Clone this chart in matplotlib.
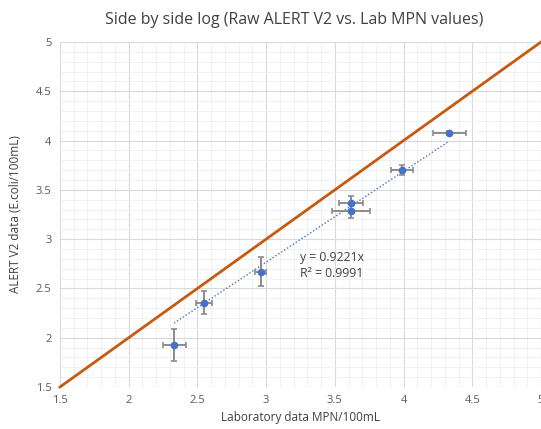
import matplotlib
matplotlib.use("Agg")
import matplotlib.pyplot as plt
import numpy as np
from matplotlib.ticker import MultipleLocator

plt.rcParams['font.family'] = ['Open Sans', 'DejaVu Sans']

# Data (log10 values)
lab_mpn = [2.33, 2.548, 2.961, 3.616, 3.616, 3.987, 4.331]
alert_v2 = [1.924, 2.356, 2.67, 3.364, 3.286, 3.70, 4.074]
lab_err = [0.084, 0.055, 0.04, 0.087, 0.14, 0.08, 0.12]
alert_err = [0.16, 0.12, 0.15, 0.07, 0.07, 0.05, 0.02]
trend_slope = 0.9221
r_squared = 0.9991
identity = [1.5, 5.0]
x_ticks = [1.5, 2, 2.5, 3, 3.5, 4, 4.5, 5]
y_ticks = [1.5, 2, 2.5, 3, 3.5, 4, 4.5, 5]

fig = plt.figure(figsize=(5.41, 4.29), dpi=100)
ax = fig.add_axes([60/541, 42/429, 1 - 60/541, 345/429])

ax.set_xlim(1.5, 5)
ax.set_ylim(1.5, 5)
ax.xaxis.set_minor_locator(MultipleLocator(0.1))
ax.yaxis.set_minor_locator(MultipleLocator(0.1))
ax.set_xticks(x_ticks)
ax.set_yticks(y_ticks)
ax.set_xticklabels([f"{t:g}" for t in x_ticks])
ax.set_yticklabels([f"{t:g}" for t in y_ticks])
ax.grid(which='major', color='#D9D9D9', linewidth=0.8)
ax.grid(which='minor', color='#EFEFEF', linewidth=0.6)
ax.set_axisbelow(True)
for s in ax.spines.values():
    s.set_visible(False)
ax.tick_params(which='both', length=0, labelsize=8, colors='#595959', pad=6)

# identity line
ax.plot(identity, identity, color='#C55A11', linewidth=2.0, zorder=2, clip_on=False)

# trendline
xt = np.array([min(lab_mpn), max(lab_mpn)])
ax.plot(xt, trend_slope * xt, color='#4472C4', linestyle=(0, (1, 1.5)), linewidth=1.0, zorder=3)

# points with error bars
ax.errorbar(lab_mpn, alert_v2, xerr=lab_err, yerr=alert_err, fmt='o',
            color='#4472C4', markersize=4.5, ecolor='#8C8C8C', elinewidth=1.4,
            capsize=2.5, capthick=1.2, zorder=4)

ax.text(3.247, 2.733, f"y = {trend_slope}x\nR\u00b2 = {r_squared}", fontsize=8.8,
        color='#404040', linespacing=1.25, va='center', ha='left')

ax.set_xlabel("Laboratory data MPN/100mL", fontsize=8.5, color='#404040', labelpad=3)
ax.set_ylabel("ALERT V2 data (E.coli/100mL)", fontsize=8.5, color='#404040', labelpad=10)
fig.text(0.543, 0.953, "Side by side log (Raw ALERT V2 vs. Lab MPN values)",
         ha='center', va='center', fontsize=11.5, color='#404040')

fig.savefig("out.png", dpi=100)
